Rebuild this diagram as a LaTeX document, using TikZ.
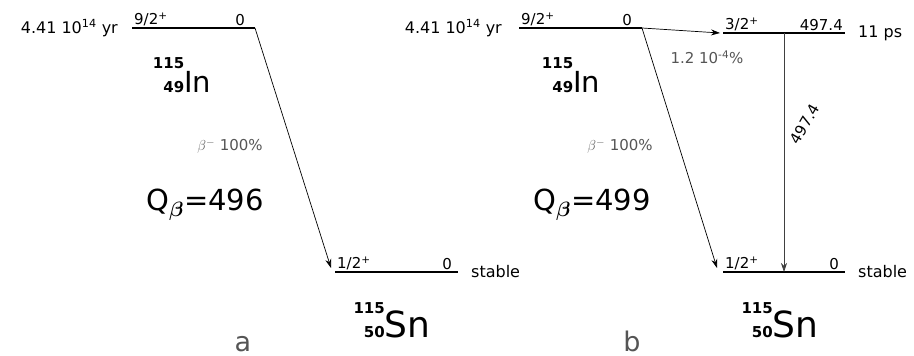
\documentclass[tikz,border=0pt]{standalone}
\usepackage{amsmath}
\usepackage{fontspec}
\setmainfont{DejaVu Sans}
\usetikzlibrary{arrows.meta, positioning}
\definecolor{branchgray}{RGB}{85,85,85}
\newcommand{\isotope}[4]{{\fontsize{15}{24}\selectfont\bfseries\begin{tabular}[b]{@{}r@{}}#1\\#2\end{tabular}}{\fontsize{#4}{#4}\selectfont #3}}
\tikzset{
  level/.style={line width=1.6pt},
  decay/.style={-{Stealth[length=9pt,width=6pt]}, line width=0.7pt},
  gammaline/.style={decay, draw=black!75},
  spinlabel/.style={font=\fontsize{15}{15}\selectfont, inner sep=2pt},
  halflife/.style={font=\fontsize{16}{16}\selectfont, inner sep=0pt},
  branch/.style={font=\fontsize{15}{15}\selectfont, text=branchgray, inner sep=0pt},
  qvalue/.style={font=\fontsize{29}{29}\selectfont, inner sep=0pt},
  panel/.style={font=\fontsize{27}{27}\selectfont, text=branchgray, inner sep=0pt, anchor=base}
}
\begin{document}
\begin{tikzpicture}[x=1pt, y=-1pt]
  \useasboundingbox (0,0) rectangle (914,356);
  % panel a: levels
  \coordinate (aTopL) at (132,28);
  \coordinate (aTopR) at (255,28);
  \coordinate (aGsL) at (335,272);
  \coordinate (aGsR) at (458,272);
  \coordinate (aFeed) at (331,268);
  \draw[level] (aTopL) -- (aTopR);
  \draw[level] (aGsL) -- (aGsR);
  \node[spinlabel, anchor=south west] (aTopSpin) at (aTopL) {9/2\textsuperscript{+}};
  \node[spinlabel, anchor=south east, xshift=-8pt] (aTopE) at (aTopR) {0};
  \node[halflife, anchor=east, xshift=-14pt] (aTopT) at (aTopL) {4.41 10\textsuperscript{14} yr};
  \node[spinlabel, anchor=south west] (aGsSpin) at (aGsL) {1/2\textsuperscript{+}};
  \node[spinlabel, anchor=south east, xshift=-4pt] (aGsE) at (aGsR) {0};
  \node[halflife, anchor=west, xshift=13pt] (aGsT) at (aGsR) {stable};
  % panel a: decay
  \draw[decay] (aTopR) -- (aFeed);
  \node[branch] (aBeta) at (230,146) {$\beta^-$ 100\%};
  \node[qvalue] (aQ) at (205,205) {Q$_{\boldsymbol\beta}$=496};
  \node[inner sep=0pt] (aIn) at (182,76) {\isotope{115}{49}{In}{29}};
  \node[inner sep=0pt] (aSn) at (392,321) {\isotope{115}{50}{Sn}{36}};
  \node[panel] (aLab) at (243,351) {a};

  % panel b: levels
  \coordinate (bTopL) at (519,28);
  \coordinate (bTopR) at (642,28);
  \coordinate (bExL) at (723,33);
  \coordinate (bExR) at (845,33);
  \coordinate (bGsL) at (723,272);
  \coordinate (bGsR) at (845,272);
  \coordinate (bFeedEx) at (720,33);
  \coordinate (bFeedGs) at (717,268);
  \coordinate (bGamTop) at (784,33);
  \coordinate (bGamBot) at (784,272);
  \draw[level] (bTopL) -- (bTopR);
  \draw[level] (bExL) -- (bExR);
  \draw[level] (bGsL) -- (bGsR);
  \node[spinlabel, anchor=south west] (bTopSpin) at (bTopL) {9/2\textsuperscript{+}};
  \node[spinlabel, anchor=south east, xshift=-8pt] (bTopE) at (bTopR) {0};
  \node[halflife, anchor=east, xshift=-17pt] (bTopT) at (bTopL) {4.41 10\textsuperscript{14} yr};
  \node[spinlabel, anchor=south west] (bExSpin) at (bExL) {3/2\textsuperscript{+}};
  \node[spinlabel, anchor=south east] (bExE) at (bExR) {497.4};
  \node[halflife, anchor=west, xshift=13pt] (bExT) at (bExR) {11 ps};
  \node[spinlabel, anchor=south west] (bGsSpin) at (bGsL) {1/2\textsuperscript{+}};
  \node[spinlabel, anchor=south east, xshift=-4pt] (bGsE) at (bGsR) {0};
  \node[halflife, anchor=west, xshift=13pt] (bGsT) at (bGsR) {stable};
  % panel b: decays
  \draw[decay] (bTopR) -- (bFeedEx);
  \draw[decay] (bTopR) -- (bFeedGs);
  \draw[gammaline] (bGamTop) -- (bGamBot);
  \node[branch] (bSmall) at (707,57) {1.2 10\textsuperscript{-4}\%};
  \node[branch] (bBeta) at (620,146) {$\beta^-$ 100\%};
  \node[spinlabel, rotate=60, inner sep=0pt] (bGamE) at (805,124) {497.4};
  \node[qvalue] (bQ) at (592,205) {Q$_{\boldsymbol\beta}$=499};
  \node[inner sep=0pt] (bIn) at (571,76) {\isotope{115}{49}{In}{29}};
  \node[inner sep=0pt] (bSn) at (780,321) {\isotope{115}{50}{Sn}{36}};
  \node[panel] (bLab) at (632,351) {b};
\end{tikzpicture}
\end{document}
